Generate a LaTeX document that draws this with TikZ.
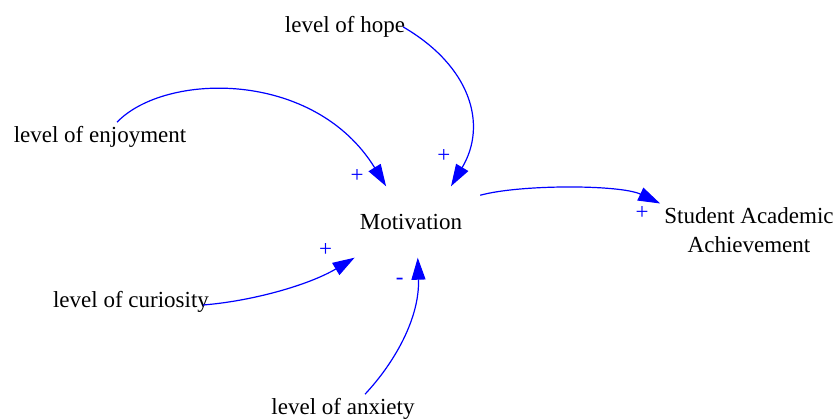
\documentclass[tikz,border=0pt]{standalone}
\usepackage{fontspec}
\setmainfont{Liberation Serif}
\usetikzlibrary{arrows.meta}

\begin{document}
\begin{tikzpicture}[
	x=1pt, y=1pt,
	>={Triangle[length=22pt,width=14pt]},
	var/.style={
		inner sep=4pt,
		align=center,
		font=\fontsize{23}{28.4}\selectfont
	},
	link/.style={
		->,
		draw=blue,
		line width=1.2pt
	},
	sign/.style={
		text=blue,
		inner sep=0pt,
		font=\fontsize{23}{25}\selectfont
	}
	]
	
	\useasboundingbox (0,0) rectangle (840,420);
	
	\node[var, minimum width=132pt, minimum height=71pt] (motiv) at (414,198) {Motivation\hspace*{6pt}};
	\node[var] (hope) at (345,393) {level of hope};
	\node[var] (enjoy) at (100,283) {level of enjoyment};
	\node[var] (curio) at (131,118) {level of curiosity};
	\node[var] (anx) at (343,11) {level of anxiety};
	\node[var] (student) at (749,190) {Student Academic\\Achievement};
	
	\draw[link] ([xshift=-6pt]hope.east) .. controls +(67,-39) and +(37,62) .. (motiv.44)
		node[sign, at end, xshift=-7pt, yshift=30pt] {+};
	\draw[link] ([xshift=17pt]enjoy.north) .. controls +(48,50) and +(-72,117) .. (motiv.128)
		node[sign, at end, xshift=-29pt, yshift=10pt] {+};
	\draw[link] ([xshift=-10pt,yshift=-3pt]curio.east) .. controls +(50,4) and +(-45,-27) .. (motiv.211)
		node[sign, at end, xshift=-29pt, yshift=8pt] {+};
	\draw[link] ([xshift=22pt]anx.north) .. controls +(30,32) and +(2,-60) .. (motiv.276)
		node[sign, at end, xshift=-18pt, yshift=-24pt] {-};
	\draw[link] (motiv.22) .. controls +(40,11) and +(-40,19) .. (student.north west)
		node[sign, at end, xshift=-18pt, yshift=-9pt] {+};
	
\end{tikzpicture}
\end{document}
